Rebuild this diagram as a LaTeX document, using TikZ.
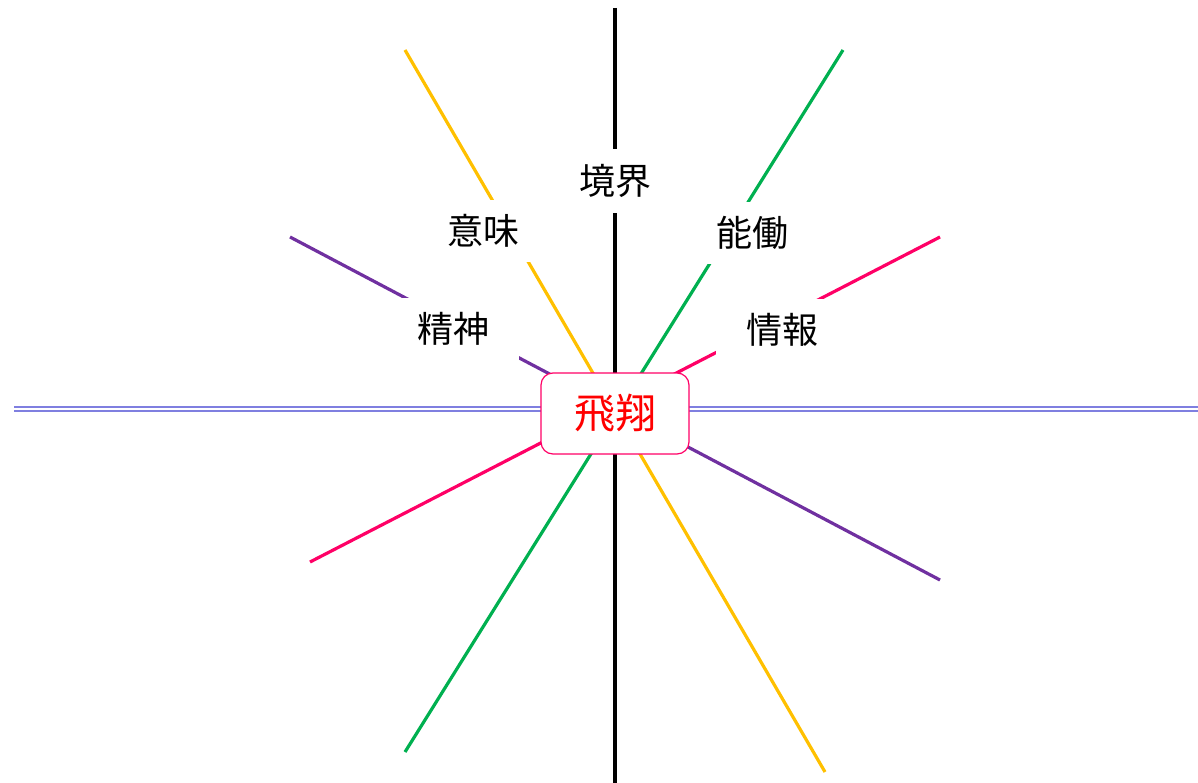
\documentclass[tikz,border=0pt]{standalone}
\usepackage{fontspec}
\setmainfont{Noto Sans CJK JP}
\usepackage{tikz}
\usetikzlibrary{positioning}
\definecolor{kiiro}{HTML}{FFC000}
\definecolor{midori}{HTML}{00B050}
\definecolor{murasaki}{HTML}{7030A0}
\definecolor{beni}{HTML}{FF0066}
\definecolor{ao}{HTML}{7F7FE0}
\tikzset{
axis/.style = {line width=3.2pt},% ray through the centre
band/.style = {draw=ao, line width=1.8pt, double=white, double distance=2.2pt},% horizon
word/.style = {fill=white, inner xsep=30pt, inner ysep=14pt, font=\fontsize{36}{40}\selectfont},% label over a ray
core/.style = {rectangle, rounded corners=12pt, draw=beni, line width=1.2pt, fill=white, text=red,
minimum width=148pt, minimum height=81pt, inner sep=0pt, font=\fontsize{41}{46}\selectfont}% centre box
}
\begin{document}
\begin{tikzpicture}[x=1pt,y=-1pt]
	\useasboundingbox (0,0) rectangle (1198,783);
	% ray end points
	\coordinate (kt) at (615,8);     \coordinate (kb) at (615,783);
	\coordinate (it) at (405,50);    \coordinate (ib) at (825,772);
	\coordinate (nt) at (843,50);    \coordinate (nb) at (405,752);
	\coordinate (st) at (290,237);   \coordinate (sb) at (940,580);
	\coordinate (jt) at (940,237);   \coordinate (jb) at (310,562);
	\coordinate (hl) at (14,409);    \coordinate (hr) at (1198,409);
	\draw [axis, black] (kt) -- (kb);
	\draw [axis, kiiro] (it) -- (ib);
	\draw [axis, midori] (nt) -- (nb);
	\draw [axis, murasaki] (st) -- (sb);
	\draw [axis, beni] (jt) -- (jb);
	\draw [band] (hl) -- (hr);
	% labels
	\node [word, inner xsep=10pt, inner ysep=15pt] (kyoukai) at (615,181) {境界};
	\node [word] (imi) at (483,231) {意味};
	\node [word] (seishin) at (453,329) {精神};
	\node [word] (noudou) at (752,233) {能働};
	\node [word] (jouhou) at (782,330) {情報};
	\node [core] (hishou) at (615,413.5) {飛翔};
\end{tikzpicture}
\end{document}
